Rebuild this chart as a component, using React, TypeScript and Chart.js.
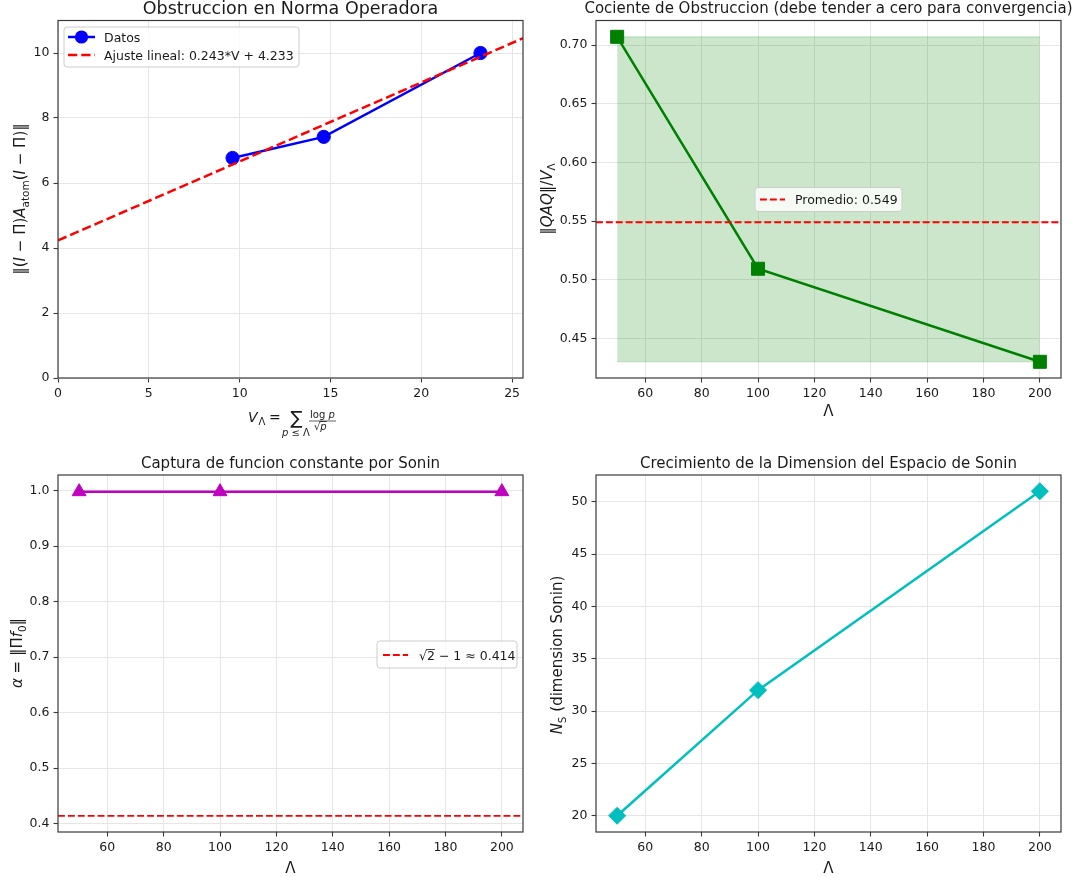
import React, { useEffect, useRef } from "react";
import { Chart, registerables } from "chart.js";

Chart.register(...registerables);

const FIG_W = 1080;
const FIG_H = 877;
const FONT = "'DejaVu Sans', sans-serif";
const TXT = "#1a1a1a";
const GRID = "#e6e6e6";
const SPINE = "#3a3a3a";

// ---------------- data ----------------
// Panel 1: Obstruccion en Norma Operadora
const vLambda = [9.61, 14.63, 23.26];
const obstruccionNorma = [6.77, 7.42, 10.0];
const ajusteV = [0, 25.6];
const ajusteY = [4.233, 10.454];
const p1XTicks = [0, 5, 10, 15, 20, 25];
const p1YTicks = [0, 2, 4, 6, 8, 10];

// Panel 2: Cociente de Obstruccion
const lambdaValues = [50, 100, 200];
const cocienteObstruccion = [0.7071, 0.5094, 0.4301];
const promedioCociente = 0.549;
const bandaSuperior = [0.7071, 0.7071, 0.7071];
const bandaInferior = [0.4301, 0.4301, 0.4301];
const lambdaTicks = [60, 80, 100, 120, 140, 160, 180, 200];
const p2YTicks = [0.45, 0.5, 0.55, 0.6, 0.65, 0.7];

// Panel 3: Captura de funcion constante
const alphaSonin = [0.998, 0.998, 0.998];
const umbralAlpha = 0.414;
const p3YTicks = [0.4, 0.5, 0.6, 0.7, 0.8, 0.9, 1.0];

// Panel 4: Dimension del espacio de Sonin
const dimensionSonin = [20, 32, 51];
const p4YTicks = [20, 25, 30, 35, 40, 45, 50];

const lambdaRange = [42.5, 207.5];

// ---------------- helpers ----------------
const xy = (xs: number[], ys: number[]) => xs.map((x, i) => ({ x, y: ys[i] }));

type Seg = { t: string; it?: boolean; sub?: boolean; over?: boolean; size?: number };

function richText(
  ctx: CanvasRenderingContext2D,
  segs: Seg[],
  cx: number,
  cy: number,
  size: number,
  rot = false
) {
  ctx.save();
  ctx.translate(cx, cy);
  if (rot) ctx.rotate(-Math.PI / 2);
  ctx.fillStyle = TXT;
  ctx.textAlign = "left";
  ctx.textBaseline = "alphabetic";
  const fnt = (s: Seg) =>
    `${s.it ? "italic " : ""}${s.size ? s.size : s.sub ? size * 0.7 : size}px ${FONT}`;
  const ws = segs.map((s) => {
    ctx.font = fnt(s);
    return ctx.measureText(s.t).width;
  });
  const total = ws.reduce((a, b) => a + b, 0);
  let x = -total / 2;
  const base = size * 0.36;
  segs.forEach((s, i) => {
    ctx.font = fnt(s);
    const y = base + (s.sub ? size * 0.22 : 0);
    ctx.fillText(s.t, x, y);
    if (s.over) {
      ctx.strokeStyle = TXT;
      ctx.lineWidth = 0.8;
      ctx.beginPath();
      ctx.moveTo(x, y - size * 0.8);
      ctx.lineTo(x + ws[i], y - size * 0.8);
      ctx.stroke();
    }
    x += ws[i];
  });
  ctx.restore();
}

function segsLeft(ctx: CanvasRenderingContext2D, segs: Seg[], x: number, y: number, size: number) {
  ctx.save();
  ctx.fillStyle = TXT;
  ctx.textAlign = "left";
  ctx.textBaseline = "alphabetic";
  let cx = x;
  segs.forEach((s) => {
    const sz = s.size || size;
    ctx.font = `${s.it ? "italic " : ""}${sz}px ${FONT}`;
    const w = ctx.measureText(s.t).width;
    ctx.fillText(s.t, cx, y);
    if (s.over) {
      ctx.strokeStyle = TXT;
      ctx.lineWidth = 0.8;
      ctx.beginPath();
      ctx.moveTo(cx - 1, y - sz * 0.8);
      ctx.lineTo(cx + w, y - sz * 0.8);
      ctx.stroke();
    }
    cx += w;
  });
  ctx.restore();
  return cx - x;
}

function plainText(
  ctx: CanvasRenderingContext2D,
  t: string,
  x: number,
  y: number,
  size: number,
  align: CanvasTextAlign = "center"
) {
  ctx.save();
  ctx.fillStyle = TXT;
  ctx.font = `${size}px ${FONT}`;
  ctx.textAlign = align;
  ctx.textBaseline = "alphabetic";
  ctx.fillText(t, x, y);
  ctx.restore();
}

function legendFrame(ctx: CanvasRenderingContext2D, x: number, y: number, w: number, h: number) {
  const r = 3;
  ctx.save();
  ctx.beginPath();
  ctx.moveTo(x + r, y);
  ctx.lineTo(x + w - r, y);
  ctx.quadraticCurveTo(x + w, y, x + w, y + r);
  ctx.lineTo(x + w, y + h - r);
  ctx.quadraticCurveTo(x + w, y + h, x + w - r, y + h);
  ctx.lineTo(x + r, y + h);
  ctx.quadraticCurveTo(x, y + h, x, y + h - r);
  ctx.lineTo(x, y + r);
  ctx.quadraticCurveTo(x, y, x + r, y);
  ctx.closePath();
  ctx.fillStyle = "rgba(255,255,255,0.8)";
  ctx.fill();
  ctx.strokeStyle = "#cccccc";
  ctx.lineWidth = 1;
  ctx.stroke();
  ctx.restore();
}

function legendLine(
  ctx: CanvasRenderingContext2D,
  x1: number,
  x2: number,
  y: number,
  color: string,
  width: number,
  dash: number[]
) {
  ctx.save();
  ctx.strokeStyle = color;
  ctx.lineWidth = width;
  ctx.setLineDash(dash);
  ctx.beginPath();
  ctx.moveTo(x1, y);
  ctx.lineTo(x2, y);
  ctx.stroke();
  ctx.restore();
}

type Area = { left: number; top: number; right: number; bottom: number };
type PanelSpec = {
  area: Area;
  xMin: number;
  xMax: number;
  xTicks: number[];
  xFmt: (v: number) => string;
  yMin: number;
  yMax: number;
  yTicks: number[];
  yFmt: (v: number) => string;
  datasets: any[];
  draw: (ctx: CanvasRenderingContext2D) => void;
};

const Y_W = 50;
const X_H = 40;

function makeConfig(p: PanelSpec): any {
  const padding = {
    left: p.area.left - Y_W,
    top: p.area.top,
    right: FIG_W - p.area.right,
    bottom: FIG_H - p.area.bottom - X_H,
  };
  const tickFont = { family: FONT, size: 12.5 };
  const gridOpts = {
    color: GRID,
    lineWidth: 1,
    drawTicks: true,
    tickLength: 4.5,
    tickColor: SPINE,
    tickWidth: 1.1,
  };
  return {
    type: "line",
    data: { datasets: p.datasets },
    options: {
      responsive: false,
      animation: false,
      devicePixelRatio: 1,
      events: [],
      layout: { padding },
      elements: { line: { tension: 0 } },
      plugins: { legend: { display: false }, tooltip: { enabled: false }, title: { display: false } },
      scales: {
        x: {
          type: "linear",
          bounds: "data",
          min: p.xMin,
          max: p.xMax,
          afterBuildTicks: (s: any) => {
            s.ticks = p.xTicks.map((v) => ({ value: v }));
          },
          afterFit: (s: any) => {
            s.height = X_H;
          },
          grid: gridOpts,
          border: { display: false },
          ticks: {
            color: TXT,
            font: tickFont,
            padding: 4,
            maxRotation: 0,
            autoSkip: false,
            callback: (v: any) => p.xFmt(Number(v)),
          },
        },
        y: {
          type: "linear",
          bounds: "data",
          min: p.yMin,
          max: p.yMax,
          afterBuildTicks: (s: any) => {
            s.ticks = p.yTicks.map((v) => ({ value: v }));
          },
          afterFit: (s: any) => {
            s.width = Y_W;
          },
          grid: gridOpts,
          border: { display: false },
          ticks: {
            color: TXT,
            font: tickFont,
            padding: 4,
            autoSkip: false,
            callback: (v: any) => p.yFmt(Number(v)),
          },
        },
      },
    },
    plugins: [
      {
        id: "deco",
        afterDraw(chart: any) {
          const ctx = chart.ctx as CanvasRenderingContext2D;
          const ca = chart.chartArea;
          ctx.save();
          ctx.strokeStyle = SPINE;
          ctx.lineWidth = 1.2;
          ctx.strokeRect(ca.left, ca.top, ca.right - ca.left, ca.bottom - ca.top);
          ctx.restore();
          p.draw(ctx);
        },
      },
    ],
  };
}

const intFmt = (v: number) => String(Math.round(v));

function buildPanels(): PanelSpec[] {
  const p1: PanelSpec = {
    area: { left: 58, top: 20.5, right: 523, bottom: 378 },
    xMin: 0,
    xMax: 25.6,
    xTicks: p1XTicks,
    xFmt: intFmt,
    yMin: 0,
    yMax: 11,
    yTicks: p1YTicks,
    yFmt: intFmt,
    datasets: [
      {
        data: xy(ajusteV, ajusteY),
        borderColor: "#ff0000",
        borderWidth: 2.5,
        borderDash: [9.25, 4],
        pointRadius: 0,
        fill: false,
      },
      {
        data: xy(vLambda, obstruccionNorma),
        borderColor: "#0000ff",
        borderWidth: 2.5,
        pointRadius: 6.6,
        pointStyle: "circle",
        pointBackgroundColor: "#0000ff",
        pointBorderColor: "#0000ff",
        pointBorderWidth: 1,
        fill: false,
      },
    ],
    draw: (ctx) => {
      plainText(ctx, "Obstruccion en Norma Operadora", 290.5, 13.5, 17.5);
      // y label
      richText(
        ctx,
        [
          { t: "‖(" },
          { t: "I", it: true },
          { t: " − Π)" },
          { t: "A", it: true },
          { t: "atom", sub: true },
          { t: "(" },
          { t: "I", it: true },
          { t: " − Π)‖" },
        ],
        20,
        199,
        15,
        true
      );
      // x label: V_Λ = Σ_{p≤Λ} log p / √p
      segsLeft(ctx, [{ t: "V", it: true }], 248, 421.7, 14);
      segsLeft(ctx, [{ t: "Λ" }], 258.5, 424.5, 10);
      segsLeft(ctx, [{ t: "=" }], 269, 421.7, 14);
      ctx.save();
      ctx.fillStyle = TXT;
      ctx.font = `18px ${FONT}`;
      ctx.textAlign = "center";
      ctx.textBaseline = "alphabetic";
      ctx.fillText("∑", 296.5, 424);
      ctx.restore();
      segsLeft(ctx, [{ t: "p", it: true }, { t: " ≤ Λ" }], 282, 436, 10);
      segsLeft(ctx, [{ t: "log " }, { t: "p", it: true }], 310, 417.5, 10);
      ctx.save();
      ctx.strokeStyle = TXT;
      ctx.lineWidth = 0.7;
      ctx.beginPath();
      ctx.moveTo(309, 421);
      ctx.lineTo(336, 421);
      ctx.stroke();
      ctx.restore();
      segsLeft(ctx, [{ t: "√" }, { t: "p", it: true, over: true }], 314, 429.5, 10);
      // legend
      legendFrame(ctx, 64, 27, 235, 40);
      legendLine(ctx, 68, 95, 37, "#0000ff", 2.5, []);
      ctx.save();
      ctx.fillStyle = "#0000ff";
      ctx.beginPath();
      ctx.arc(81.5, 37, 6.6, 0, Math.PI * 2);
      ctx.fill();
      ctx.restore();
      plainText(ctx, "Datos", 104, 41.5, 12.5, "left");
      legendLine(ctx, 68, 95, 55, "#ff0000", 2.5, [9.25, 4]);
      plainText(ctx, "Ajuste lineal: 0.243*V + 4.233", 104, 59.5, 12.5, "left");
    },
  };

  const p2: PanelSpec = {
    area: { left: 596, top: 20.5, right: 1061, bottom: 378 },
    xMin: lambdaRange[0],
    xMax: lambdaRange[1],
    xTicks: lambdaTicks,
    xFmt: intFmt,
    yMin: 0.4163,
    yMax: 0.721,
    yTicks: p2YTicks,
    yFmt: (v) => v.toFixed(2),
    datasets: [
      {
        data: xy(lambdaRange, [promedioCociente, promedioCociente]),
        borderColor: "#ff0000",
        borderWidth: 1.9,
        borderDash: [6.9, 3],
        pointRadius: 0,
        fill: false,
      },
      {
        data: xy(lambdaValues, cocienteObstruccion),
        borderColor: "#008000",
        borderWidth: 2.5,
        pointRadius: 9.2,
        pointStyle: "rect",
        pointBackgroundColor: "#008000",
        pointBorderColor: "#008000",
        pointBorderWidth: 1,
        fill: false,
      },
      {
        data: xy(lambdaValues, bandaSuperior),
        borderColor: "rgba(0,128,0,0.2)",
        borderWidth: 1,
        backgroundColor: "rgba(0,128,0,0.2)",
        pointRadius: 0,
        fill: "+1",
      },
      {
        data: xy(lambdaValues, bandaInferior),
        borderColor: "rgba(0,128,0,0.2)",
        borderWidth: 1,
        pointRadius: 0,
        fill: false,
      },
    ],
    draw: (ctx) => {
      plainText(ctx, "Cociente de Obstruccion (debe tender a cero para convergencia)", 828.5, 13, 15);
      richText(
        ctx,
        [{ t: "‖" }, { t: "QAQ", it: true }, { t: "‖/" }, { t: "V", it: true }, { t: "Λ", sub: true }],
        546.5,
        199,
        15,
        true
      );
      plainText(ctx, "Λ", 828.5, 416, 15);
      legendFrame(ctx, 755, 187.5, 147, 24);
      legendLine(ctx, 760, 785, 199.5, "#ff0000", 1.9, [6.9, 3]);
      plainText(ctx, "Promedio: 0.549", 795, 204, 12.5, "left");
    },
  };

  const p3: PanelSpec = {
    area: { left: 58, top: 475, right: 523, bottom: 832 },
    xMin: lambdaRange[0],
    xMax: lambdaRange[1],
    xTicks: lambdaTicks,
    xFmt: intFmt,
    yMin: 0.385,
    yMax: 1.028,
    yTicks: p3YTicks,
    yFmt: (v) => v.toFixed(1),
    datasets: [
      {
        data: xy(lambdaRange, [umbralAlpha, umbralAlpha]),
        borderColor: "#ff0000",
        borderWidth: 1.9,
        borderDash: [6.9, 3],
        pointRadius: 0,
        fill: false,
      },
      {
        data: xy(lambdaValues, alphaSonin),
        borderColor: "#bf00bf",
        borderWidth: 2.5,
        pointRadius: 8,
        pointStyle: "triangle",
        pointBackgroundColor: "#bf00bf",
        pointBorderColor: "#bf00bf",
        pointBorderWidth: 1,
        fill: false,
      },
    ],
    draw: (ctx) => {
      plainText(ctx, "Captura de funcion constante por Sonin", 290.5, 467.5, 15);
      richText(
        ctx,
        [{ t: "α", it: true }, { t: " = ‖Π" }, { t: "f", it: true }, { t: "0", sub: true }, { t: "‖" }],
        17,
        653,
        15,
        true
      );
      plainText(ctx, "Λ", 290.5, 873, 15);
      legendFrame(ctx, 377, 641, 140, 27);
      legendLine(ctx, 383, 408, 655, "#ff0000", 1.9, [6.9, 3]);
      segsLeft(
        ctx,
        [{ t: "√" }, { t: "2", over: true }, { t: " − 1 ≈ 0.414" }],
        419,
        659.5,
        12.5
      );
    },
  };

  const p4: PanelSpec = {
    area: { left: 596, top: 475, right: 1061, bottom: 832 },
    xMin: lambdaRange[0],
    xMax: lambdaRange[1],
    xTicks: lambdaTicks,
    xFmt: intFmt,
    yMin: 18.45,
    yMax: 52.55,
    yTicks: p4YTicks,
    yFmt: intFmt,
    datasets: [
      {
        data: xy(lambdaValues, dimensionSonin),
        borderColor: "#00bfbf",
        borderWidth: 2.5,
        pointRadius: 8.5,
        pointStyle: "rectRot",
        pointBackgroundColor: "#00bfbf",
        pointBorderColor: "#00bfbf",
        pointBorderWidth: 1,
        fill: false,
      },
    ],
    draw: (ctx) => {
      plainText(ctx, "Crecimiento de la Dimension del Espacio de Sonin", 828.5, 467.5, 15);
      richText(
        ctx,
        [{ t: "N", it: true }, { t: "S", sub: true }, { t: " (dimension Sonin)" }],
        557,
        655,
        15,
        true
      );
      plainText(ctx, "Λ", 828.5, 873, 15);
    },
  };

  return [p1, p2, p3, p4];
}

export default function App() {
  const canvases = useRef<(HTMLCanvasElement | null)[]>([]);

  useEffect(() => {
    const panels = buildPanels();
    const charts = panels.map((p, i) => new Chart(canvases.current[i] as HTMLCanvasElement, makeConfig(p)));
    return () => charts.forEach((c) => c.destroy());
  }, []);

  return (
    <div
      style={{
        position: "absolute",
        left: 0,
        top: 0,
        width: FIG_W,
        height: FIG_H,
        background: "#ffffff",
        overflow: "hidden",
      }}
    >
      {[0, 1, 2, 3].map((i) => (
        <canvas
          key={i}
          ref={(el) => {
            canvases.current[i] = el;
          }}
          width={FIG_W}
          height={FIG_H}
          style={{ position: "absolute", left: 0, top: 0, width: FIG_W, height: FIG_H }}
        />
      ))}
    </div>
  );
}
